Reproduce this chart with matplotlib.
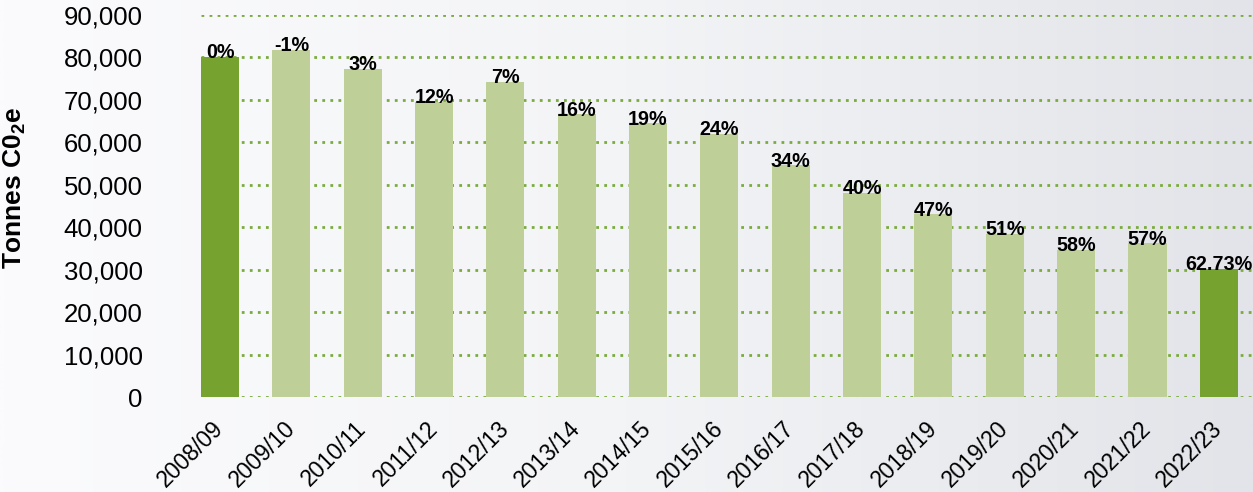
import numpy as np
import matplotlib
matplotlib.use("Agg")
import matplotlib.pyplot as plt
from matplotlib.colors import LinearSegmentedColormap

plt.rcParams["font.family"] = ["Liberation Sans", "DejaVu Sans"]

# --- Data ---------------------------------------------------------------
years = ["2008/09", "2009/10", "2010/11", "2011/12", "2012/13", "2013/14",
         "2014/15", "2015/16", "2016/17", "2017/18", "2018/19", "2019/20",
         "2020/21", "2021/22", "2022/23"]
tonnes = [80100, 81700, 77200, 69400, 74100, 66500, 64400, 62000, 54500,
          48100, 43000, 38400, 34700, 36200, 30200]
reduction = ["0%", "-1%", "3%", "12%", "7%", "16%", "19%", "24%", "34%",
             "40%", "47%", "51%", "58%", "57%", "62.73%"]
highlight = [True] + [False] * 13 + [True]

DARK = "#76a22f"
LIGHT = "#bfcf98"
GRID = "#7aab3c"

fig = plt.figure(figsize=(12.53, 4.92), dpi=100)

# background gradient, light on the left to grey on the right
bg = fig.add_axes([0, 0, 1, 1], zorder=-10)
cmap = LinearSegmentedColormap.from_list("bg", ["#fbfbfd", "#f3f4f6", "#e2e4e9"])
bg.imshow(np.linspace(0, 1, 512)[None, :], aspect="auto", cmap=cmap,
          extent=[0, 1, 0, 1])
bg.set_axis_off()

ax = fig.add_axes([0.1604, 0.1925, 0.8396, 0.778])
ax.patch.set_alpha(0)

x = np.arange(len(years))
colours = [DARK if h else LIGHT for h in highlight]
ax.bar(x, tonnes, width=0.535, color=colours, zorder=2)

# percentage reduction against the 2008/09 baseline, sat on each bar
for xi, val, lab in zip(x, tonnes, reduction):
    ax.text(xi, val - 300, lab, ha="center", va="baseline", fontsize=14.2,
            fontweight="bold", color="black", zorder=3)

ax.set_ylim(0, 90000)
ax.set_xlim(-0.267, 14.48)
ax.set_yticks(np.arange(0, 90001, 10000))
ax.set_yticklabels([f"{v:,}" for v in range(0, 90001, 10000)], fontsize=18.5)
ax.yaxis.grid(True, color=GRID, linewidth=2, linestyle=(0, (1, 1.9)), zorder=1)
ax.set_axisbelow(True)

ax.set_xticks(x)
ax.set_xticklabels(years, rotation=45, ha="right", va="center",
                   rotation_mode="anchor", fontsize=16.5)
ax.tick_params(axis="both", length=0)
ax.tick_params(axis="x", pad=20)
ax.tick_params(axis="y", pad=42)
for side in ["top", "right", "bottom", "left"]:
    ax.spines[side].set_visible(False)

fig.text(0.012, 0.618, "Tonnes C0$_\\mathregular{2}$e", rotation=90,
         fontsize=19, fontweight="bold", ha="center", va="center")

fig.savefig("out.png", dpi=100)
